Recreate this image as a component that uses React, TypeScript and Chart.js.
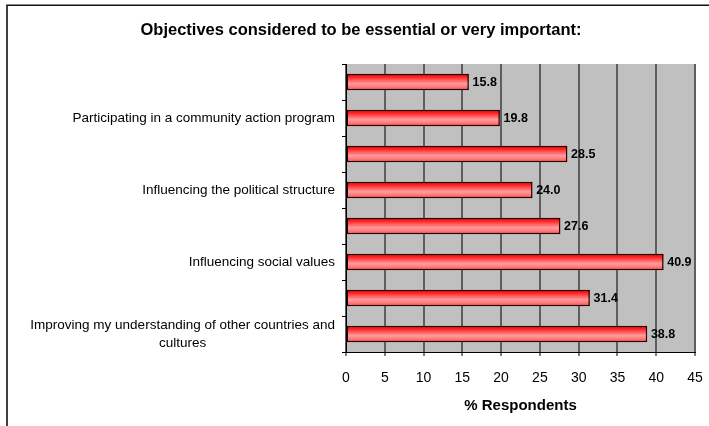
import React, { useEffect, useRef } from "react";
import { Chart, registerables } from "chart.js";

Chart.register(...registerables);

const chartTitle = "Objectives considered to be essential or very important:";
const categories: string[][] = [
  [""],
  ["Participating in a community action program"],
  [""],
  ["Influencing the political structure"],
  [""],
  ["Influencing social values"],
  [""],
  ["Improving my understanding of other countries and", "cultures"],
];
const values: number[] = [15.8, 19.8, 28.5, 24.0, 27.6, 40.9, 31.4, 38.8];
const xMin = 0;
const xMax = 45;
const xStep = 5;
const xAxisTitle = "% Respondents";

const FONT = "'Liberation Sans', Arial, Helvetica, sans-serif";

export default function App() {
  const ref = useRef<HTMLCanvasElement | null>(null);

  useEffect(() => {
    if (!ref.current) return;

    const framePlugin = {
      id: "frame",
      beforeDraw(chart: any) {
        const { ctx, chartArea } = chart;
        ctx.save();
        ctx.fillStyle = "#ffffff";
        ctx.fillRect(0, 0, chart.width, chart.height);
        ctx.fillStyle = "#c0c0c0";
        ctx.fillRect(chartArea.left, chartArea.top, chartArea.right - chartArea.left, chartArea.bottom - chartArea.top);
        ctx.strokeStyle = "#111111";
        ctx.lineWidth = 1.6;
        ctx.beginPath();
        ctx.moveTo(7, chart.height);
        ctx.lineTo(7, 5.3);
        ctx.lineTo(chart.width, 5.3);
        ctx.stroke();
        ctx.fillStyle = "#000000";
        ctx.font = `bold 16.5px ${FONT}`;
        ctx.textAlign = "center";
        ctx.textBaseline = "middle";
        ctx.fillText(chartTitle, 361, 30);
        ctx.restore();
      },
    };

    // Repaint each bar (element geometry from Chart.js) with a cylinder-like gradient
    const gradientPlugin = {
      id: "barGradient",
      afterDatasetsDraw(chart: any) {
        const { ctx } = chart;
        const meta = chart.getDatasetMeta(0);
        ctx.save();
        meta.data.forEach((el: any) => {
          const h = el.height;
          const left = Math.min(el.base, el.x);
          const right = Math.max(el.base, el.x);
          const top = el.y - h / 2;
          if (![h, left, right, top].every(isFinite)) return;
          const g = ctx.createLinearGradient(0, top, 0, top + h);
          g.addColorStop(0, "#d00000");
          g.addColorStop(0.18, "#ff2020");
          g.addColorStop(0.6, "#ff9c9c");
          g.addColorStop(0.82, "#ff7878");
          g.addColorStop(1, "#ff3030");
          ctx.fillStyle = g;
          ctx.fillRect(left, top, right - left, h);
          ctx.strokeStyle = "#1a0000";
          ctx.lineWidth = 1;
          ctx.strokeRect(left + 0.5, top + 0.5, right - left - 1, h - 1);
        });
        ctx.restore();
      },
    };

    const labelsPlugin = {
      id: "catLabels",
      afterDraw(chart: any) {
        const { ctx, chartArea } = chart;
        const yScale = chart.scales.y;
        ctx.save();
        ctx.fillStyle = "#000000";
        ctx.font = `13.5px ${FONT}`;
        ctx.textAlign = "center";
        ctx.textBaseline = "middle";
        const right = chartArea.left - 11;
        const lh = 18;
        categories.forEach((lines, i) => {
          const yc = yScale.getPixelForValue(i);
          let maxW = 0;
          lines.forEach((l) => {
            maxW = Math.max(maxW, ctx.measureText(l).width);
          });
          const cx = right - maxW / 2;
          lines.forEach((l, j) => {
            ctx.fillText(l, cx, yc + (j - (lines.length - 1) / 2) * lh);
          });
        });
        ctx.restore();
      },
    };

    const valuePlugin = {
      id: "valueLabels",
      afterDatasetsDraw(chart: any) {
        const { ctx } = chart;
        const meta = chart.getDatasetMeta(0);
        ctx.save();
        ctx.fillStyle = "#000000";
        ctx.font = `bold 12.5px ${FONT}`;
        ctx.textAlign = "left";
        ctx.textBaseline = "middle";
        meta.data.forEach((el: any, i: number) => {
          ctx.fillText(values[i].toFixed(1), el.x + 4, el.y + 0.5);
        });
        ctx.restore();
      },
    };

    const chart = new Chart(ref.current, {
      type: "bar",
      data: {
        labels: categories.map((c) => c.join(" ")),
        datasets: [
          {
            data: values,
            barThickness: 16,
            borderWidth: 1,
            borderColor: "#1a0000",
            borderSkipped: false,
            backgroundColor: "#ff6666",
          },
        ],
      },
      options: {
        indexAxis: "y",
        responsive: false,
        animation: false,
        layout: { padding: { top: 64, right: 14, left: 0, bottom: 0 } },
        plugins: {
          legend: { display: false },
          title: { display: false },
          tooltip: { enabled: false },
        },
        scales: {
          x: {
            type: "linear",
            min: xMin,
            max: xMax,
            afterFit(scale: any) {
              scale.height = 74;
              scale.paddingRight = 0;
              scale.paddingLeft = 0;
            },
            ticks: {
              stepSize: xStep,
              color: "#000000",
              font: { family: FONT, size: 14 },
              padding: 14,
              maxRotation: 0,
            },
            grid: {
              color: "#5e5e5e",
              lineWidth: 2,
              drawTicks: true,
              tickLength: 4,
              tickColor: "#000000",
              tickWidth: 1,
            },
            border: { display: true, color: "#000000", width: 1 },
            title: {
              display: true,
              text: xAxisTitle,
              color: "#000000",
              font: { family: FONT, size: 15, weight: "bold" },
              padding: { top: 0, bottom: 11 },
            },
          },
          y: {
            type: "category",
            afterFit(scale: any) {
              scale.width = 346;
              scale.paddingTop = 0;
              scale.paddingBottom = 0;
            },
            ticks: { display: false, autoSkip: false },
            grid: {
              display: true,
              drawOnChartArea: false,
              drawTicks: true,
              tickLength: 4,
              color: "#000000",
              tickColor: "#000000",
              offset: true,
            },
            border: { display: true, color: "#000000", width: 1 },
          },
        },
      },
      plugins: [framePlugin, gradientPlugin, labelsPlugin, valuePlugin],
    } as any);

    return () => chart.destroy();
  }, []);

  return (
    <div style={{ position: "absolute", left: 0, top: 0, width: 709, height: 426 }}>
      <canvas ref={ref} width={709} height={426} style={{ display: "block", width: 709, height: 426 }} />
    </div>
  );
}
